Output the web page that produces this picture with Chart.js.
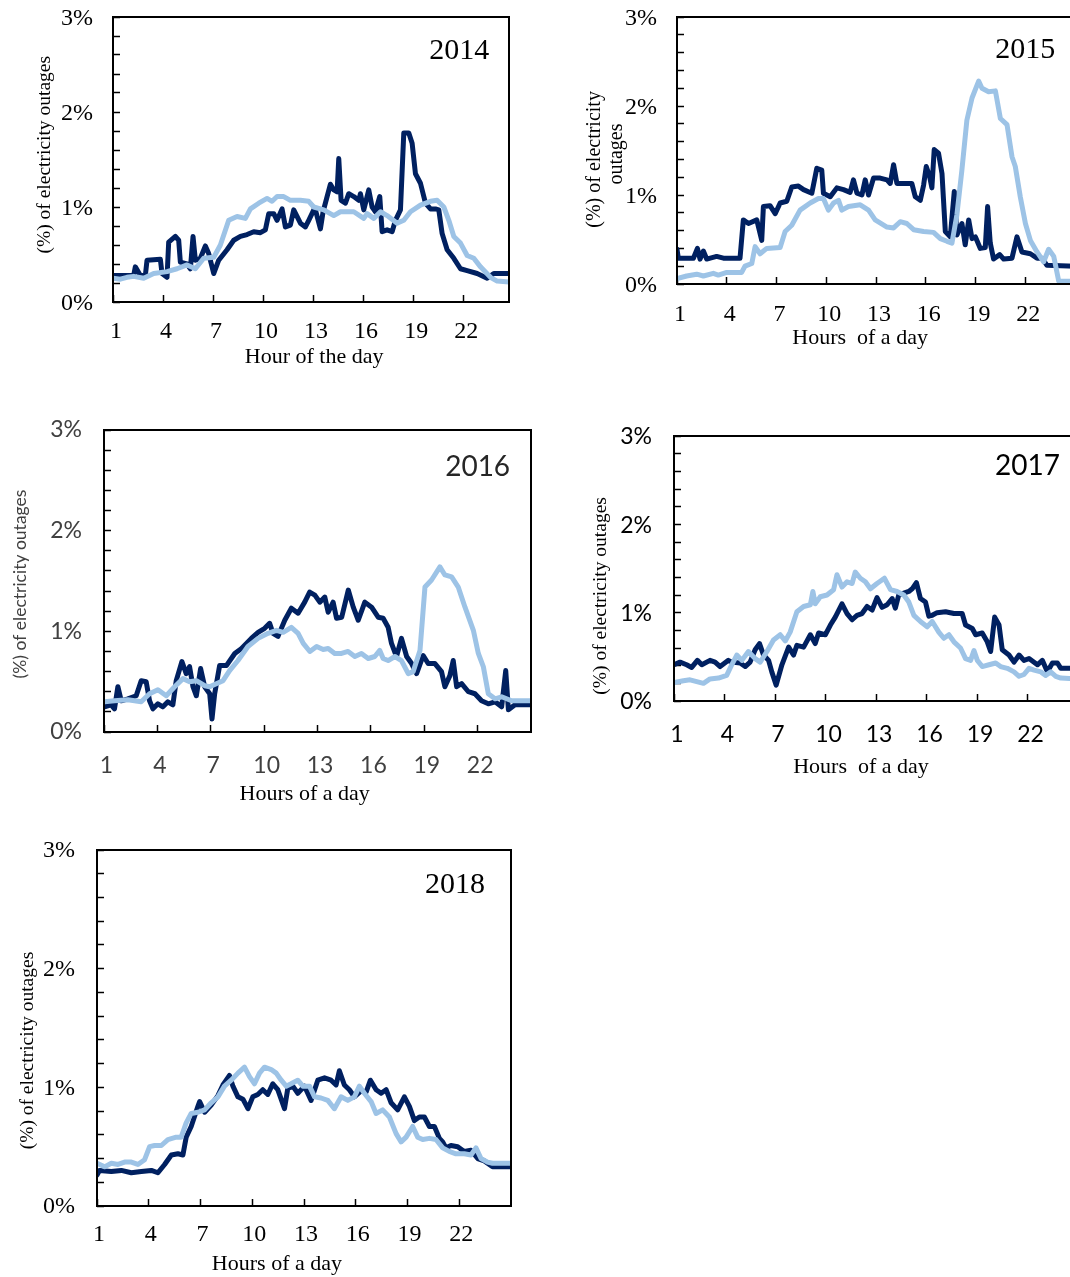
<!DOCTYPE html>
<html>
<head>
<meta charset="utf-8">
<script src="https://cdn.jsdelivr.net/npm/chart.js@4.4.0/dist/chart.umd.min.js"></script>
<style>
html, body { margin: 0; padding: 0; background: #fff; overflow: hidden; }
#page { position: relative; width: 1070px; height: 1277px; overflow: hidden; }
#page canvas { position: absolute; }
</style>
</head>
<body>
<div id="page">
  <canvas id="c2014" width="511" height="372" style="left:0px;top:0px"></canvas>
  <canvas id="c2015" width="517" height="352" style="left:560px;top:0px"></canvas>
  <canvas id="c2016" width="533" height="399" style="left:0px;top:410px"></canvas>
  <canvas id="c2017" width="520" height="365" style="left:560px;top:416px"></canvas>
  <canvas id="c2018" width="513" height="448" style="left:0px;top:830px"></canvas>
</div>
<script>
// tick labels on the hour axis
const hourTicks = [1, 4, 7, 10, 13, 16, 19, 22];

// [hour of day, % of electricity outages]
const dark2014 = [[1.0,0.28],[2.24,0.28],[2.34,0.37],[2.64,0.28],[2.94,0.28],[3.04,0.44],[3.84,0.45],[3.94,0.30],[4.24,0.26],[4.34,0.63],[4.74,0.69],[4.94,0.65],[5.04,0.42],[5.44,0.40],[5.64,0.35],[5.8,0.69],[5.94,0.44],[6.24,0.46],[6.54,0.59],[6.74,0.51],[7.04,0.30],[7.34,0.44],[7.84,0.55],[8.24,0.65],[8.64,0.69],[9.04,0.71],[9.44,0.74],[9.84,0.73],[10.14,0.76],[10.34,0.93],[10.64,0.93],[10.84,0.86],[11.14,0.98],[11.34,0.79],[11.64,0.81],[11.84,0.97],[12.24,0.83],[12.54,0.79],[12.74,0.86],[13.04,0.97],[13.14,0.97],[13.44,0.77],[13.6,0.95],[14.04,1.24],[14.24,1.18],[14.44,1.16],[14.54,1.51],[14.68,1.07],[14.94,1.04],[15.14,1.14],[15.44,1.11],[15.74,1.07],[15.84,1.14],[16.04,0.97],[16.34,1.18],[16.54,1.00],[16.74,0.95],[17.0,1.11],[17.14,0.74],[17.44,0.76],[17.74,0.74],[17.94,0.86],[18.24,0.97],[18.44,1.78],[18.74,1.78],[18.94,1.67],[19.14,1.35],[19.44,1.25],[19.74,1.04],[20.04,0.98],[20.34,0.98],[20.54,0.97],[20.74,0.72],[21.04,0.55],[21.44,0.46],[21.84,0.35],[22.24,0.33],[22.84,0.30],[23.44,0.25],[23.84,0.30],[24.75,0.30]];
const light2014 = [[1.0,0.25],[1.44,0.24],[1.84,0.26],[2.24,0.27],[2.84,0.25],[3.44,0.30],[4.24,0.32],[4.84,0.35],[5.44,0.39],[5.94,0.35],[6.44,0.46],[7.04,0.47],[7.44,0.60],[7.94,0.86],[8.44,0.90],[8.94,0.88],[9.24,0.98],[9.74,1.04],[10.24,1.09],[10.54,1.06],[10.84,1.11],[11.24,1.11],[11.64,1.07],[12.24,1.07],[12.74,1.06],[13.04,1.00],[13.64,0.97],[14.24,0.91],[14.64,0.95],[15.44,0.95],[16.04,0.88],[16.24,0.93],[16.64,0.88],[17.04,0.95],[17.44,0.91],[18.04,0.83],[18.44,0.86],[18.84,0.95],[19.44,1.02],[20.04,1.06],[20.44,1.07],[20.84,1.00],[21.14,0.86],[21.44,0.69],[21.84,0.62],[22.24,0.49],[22.64,0.46],[23.04,0.37],[23.64,0.26],[24.04,0.22],[24.75,0.21]];

const dark2015 = [[1.0,0.39],[1.08,0.29],[1.99,0.29],[2.23,0.40],[2.39,0.28],[2.59,0.37],[2.79,0.28],[3.39,0.31],[3.8,0.29],[4.8,0.29],[5.0,0.72],[5.31,0.68],[5.81,0.72],[6.11,0.49],[6.21,0.87],[6.61,0.88],[6.92,0.79],[7.22,0.91],[7.62,0.93],[7.92,1.09],[8.32,1.10],[8.63,1.06],[9.13,1.02],[9.43,1.30],[9.73,1.28],[9.83,1.02],[10.24,0.98],[10.64,1.08],[11.04,1.06],[11.44,1.03],[11.64,1.17],[11.85,1.02],[12.15,1.00],[12.35,1.17],[12.55,1.00],[12.85,1.19],[13.25,1.19],[13.66,1.17],[13.86,1.13],[14.06,1.34],[14.26,1.13],[14.86,1.13],[15.16,1.13],[15.37,0.98],[15.67,0.94],[15.87,1.11],[16.03,1.32],[16.23,1.21],[16.37,1.08],[16.51,1.51],[16.77,1.47],[16.98,1.24],[17.18,0.59],[17.48,0.53],[17.72,1.04],[17.88,0.55],[18.18,0.68],[18.38,0.44],[18.59,0.72],[18.79,0.51],[18.99,0.53],[19.29,0.40],[19.59,0.41],[19.73,0.87],[19.89,0.46],[20.09,0.28],[20.46,0.33],[20.7,0.28],[21.2,0.29],[21.5,0.53],[21.8,0.36],[22.31,0.34],[22.71,0.29],[23.01,0.29],[23.31,0.21],[25.0,0.20]];
const light2015 = [[1.0,0.06],[1.58,0.09],[2.19,0.11],[2.59,0.09],[3.19,0.12],[3.49,0.10],[4.0,0.13],[4.9,0.13],[5.1,0.20],[5.51,0.23],[5.71,0.42],[6.01,0.34],[6.41,0.40],[7.22,0.41],[7.52,0.59],[7.92,0.66],[8.42,0.83],[9.03,0.91],[9.53,0.96],[9.83,0.96],[10.13,0.83],[10.44,0.91],[10.74,0.94],[10.94,0.83],[11.34,0.87],[12.05,0.89],[12.55,0.83],[12.95,0.72],[13.66,0.64],[14.06,0.63],[14.46,0.70],[14.86,0.68],[15.27,0.61],[15.87,0.59],[16.47,0.58],[16.88,0.51],[17.28,0.48],[17.58,0.46],[17.88,0.78],[18.18,1.28],[18.48,1.84],[18.79,2.09],[19.19,2.28],[19.39,2.20],[19.79,2.16],[20.2,2.17],[20.5,1.86],[20.9,1.79],[21.2,1.43],[21.4,1.32],[21.7,0.98],[22.01,0.68],[22.31,0.49],[22.71,0.36],[23.11,0.25],[23.41,0.39],[23.72,0.31],[24.02,0.03],[25.0,0.03]];

const dark2016 = [[1.03,0.25],[1.4,0.27],[1.59,0.23],[1.78,0.45],[1.97,0.31],[2.34,0.33],[2.81,0.36],[3.09,0.51],[3.37,0.50],[3.56,0.31],[3.75,0.23],[4.03,0.28],[4.31,0.25],[4.59,0.30],[4.87,0.27],[5.06,0.51],[5.38,0.70],[5.62,0.58],[5.81,0.65],[6.0,0.45],[6.19,0.36],[6.43,0.63],[6.66,0.45],[6.94,0.38],[7.07,0.13],[7.22,0.38],[7.5,0.66],[7.88,0.66],[8.35,0.78],[8.73,0.83],[9.28,0.93],[9.66,0.99],[10.03,1.03],[10.31,1.08],[10.5,0.98],[10.78,0.95],[11.16,1.11],[11.53,1.23],[11.91,1.18],[12.28,1.29],[12.56,1.39],[12.85,1.36],[13.13,1.29],[13.41,1.34],[13.6,1.19],[13.88,1.29],[14.07,1.13],[14.36,1.14],[14.73,1.41],[15.01,1.24],[15.29,1.11],[15.66,1.29],[16.04,1.24],[16.41,1.14],[16.69,1.13],[16.97,1.04],[17.16,0.88],[17.44,0.75],[17.72,0.93],[18.01,0.75],[18.29,0.68],[18.57,0.58],[18.94,0.76],[19.22,0.68],[19.6,0.68],[19.97,0.60],[20.16,0.45],[20.44,0.56],[20.63,0.71],[20.82,0.45],[21.1,0.48],[21.48,0.40],[21.85,0.38],[22.22,0.31],[22.6,0.28],[22.98,0.30],[23.35,0.25],[23.58,0.61],[23.73,0.22],[24.1,0.27],[25.0,0.27]];
const light2016 = [[1.03,0.30],[1.59,0.31],[2.34,0.32],[3.09,0.30],[3.56,0.38],[4.03,0.42],[4.5,0.36],[4.97,0.45],[5.44,0.53],[5.81,0.50],[6.19,0.51],[6.66,0.46],[6.94,0.45],[7.31,0.48],[7.69,0.51],[8.06,0.61],[8.53,0.71],[9.09,0.85],[9.66,0.93],[10.22,0.98],[10.69,1.01],[11.07,0.99],[11.53,1.04],[11.91,0.98],[12.2,0.88],[12.57,0.80],[12.95,0.85],[13.32,0.82],[13.6,0.83],[13.97,0.78],[14.35,0.78],[14.72,0.80],[15.1,0.75],[15.47,0.78],[15.85,0.73],[16.22,0.75],[16.5,0.81],[16.69,0.73],[16.97,0.71],[17.35,0.75],[17.72,0.71],[18.1,0.58],[18.38,0.60],[18.76,0.81],[19.04,1.44],[19.41,1.51],[19.88,1.64],[20.16,1.56],[20.54,1.54],[20.91,1.44],[21.29,1.24],[21.76,1.01],[22.04,0.78],[22.32,0.65],[22.6,0.38],[22.98,0.33],[23.35,0.35],[23.91,0.31],[25.0,0.31]];

const dark2017 = [[1.0,0.41],[1.36,0.44],[1.75,0.41],[2.05,0.38],[2.39,0.46],[2.65,0.41],[3.14,0.46],[3.44,0.44],[3.74,0.39],[4.23,0.46],[4.43,0.44],[4.93,0.43],[5.23,0.39],[5.52,0.44],[5.82,0.58],[6.08,0.65],[6.32,0.52],[6.62,0.46],[6.81,0.33],[7.07,0.18],[7.41,0.41],[7.81,0.61],[8.1,0.52],[8.3,0.63],[8.7,0.61],[9.1,0.75],[9.39,0.65],[9.59,0.77],[9.99,0.75],[10.29,0.86],[10.58,0.95],[10.98,1.10],[11.28,0.99],[11.58,0.92],[11.87,0.97],[12.17,0.99],[12.47,1.07],[12.77,1.03],[13.06,1.17],[13.36,1.06],[13.66,1.09],[13.96,1.16],[14.15,1.05],[14.35,1.20],[14.65,1.22],[14.95,1.24],[15.15,1.27],[15.4,1.34],[15.64,1.16],[15.94,1.12],[16.14,0.96],[16.34,0.97],[16.63,1.00],[17.13,1.01],[17.63,0.99],[18.12,0.99],[18.32,0.86],[18.72,0.82],[18.92,0.75],[19.31,0.77],[19.61,0.67],[19.81,0.56],[20.05,0.95],[20.31,0.86],[20.5,0.58],[20.9,0.52],[21.2,0.44],[21.5,0.52],[21.79,0.46],[22.09,0.48],[22.59,0.41],[22.88,0.46],[23.18,0.33],[23.48,0.43],[23.78,0.43],[23.98,0.37],[25.0,0.37]];
const light2017 = [[1.0,0.21],[1.56,0.23],[1.95,0.24],[2.35,0.22],[2.75,0.20],[3.14,0.25],[3.64,0.26],[4.13,0.29],[4.43,0.41],[4.73,0.52],[5.03,0.46],[5.42,0.56],[5.82,0.48],[6.12,0.44],[6.52,0.56],[6.91,0.69],[7.31,0.75],[7.61,0.68],[7.9,0.78],[8.3,1.01],[8.7,1.07],[9.1,1.09],[9.25,1.24],[9.39,1.10],[9.69,1.18],[10.09,1.20],[10.48,1.26],[10.68,1.43],[10.98,1.29],[11.28,1.35],[11.58,1.33],[11.77,1.46],[12.07,1.39],[12.37,1.35],[12.67,1.27],[13.06,1.33],[13.5,1.39],[13.86,1.26],[14.25,1.24],[14.65,1.20],[14.95,1.12],[15.25,0.97],[15.64,0.90],[16.04,0.84],[16.34,0.90],[16.73,0.78],[17.03,0.71],[17.33,0.75],[17.63,0.67],[18.02,0.60],[18.32,0.48],[18.62,0.46],[18.82,0.57],[19.02,0.46],[19.31,0.39],[19.71,0.41],[20.11,0.43],[20.4,0.39],[20.8,0.37],[21.2,0.33],[21.5,0.28],[21.79,0.30],[22.09,0.37],[22.39,0.35],[22.79,0.33],[23.08,0.29],[23.38,0.33],[23.68,0.28],[23.98,0.26],[25.0,0.25]];

const dark2018 = [[1.0,0.26],[1.15,0.30],[1.83,0.29],[2.41,0.30],[2.99,0.28],[3.57,0.29],[4.15,0.30],[4.53,0.28],[4.92,0.35],[5.31,0.43],[5.69,0.44],[5.98,0.43],[6.17,0.58],[6.46,0.67],[6.85,0.84],[6.95,0.88],[7.24,0.79],[7.62,0.85],[8.01,0.93],[8.3,1.02],[8.68,1.10],[8.88,1.01],[9.17,0.92],[9.46,0.90],[9.75,0.82],[10.03,0.92],[10.32,0.94],[10.61,0.98],[10.9,0.94],[11.19,1.03],[11.48,0.98],[11.87,0.82],[12.06,0.99],[12.35,1.01],[12.64,0.95],[13.03,1.01],[13.41,0.89],[13.8,1.06],[14.19,1.08],[14.57,1.06],[14.86,1.02],[15.05,1.14],[15.34,1.02],[15.63,0.98],[15.92,0.92],[16.31,0.97],[16.6,0.96],[16.85,1.06],[17.18,0.98],[17.47,0.95],[17.76,0.98],[18.05,0.87],[18.43,0.81],[18.82,0.92],[19.11,0.84],[19.4,0.72],[19.69,0.75],[19.98,0.75],[20.27,0.67],[20.56,0.67],[20.85,0.57],[21.04,0.54],[21.23,0.49],[21.52,0.51],[21.91,0.50],[22.29,0.46],[22.68,0.47],[23.07,0.40],[23.45,0.38],[23.93,0.33],[25.0,0.33]];
const light2018 = [[1.0,0.36],[1.44,0.33],[1.83,0.36],[2.22,0.35],[2.6,0.37],[2.99,0.37],[3.37,0.35],[3.76,0.39],[4.05,0.50],[4.34,0.51],[4.73,0.51],[5.11,0.56],[5.59,0.58],[5.88,0.58],[6.17,0.70],[6.46,0.78],[6.85,0.79],[7.24,0.81],[7.62,0.87],[8.01,0.92],[8.39,1.01],[8.78,1.06],[9.17,1.12],[9.55,1.17],[9.84,1.09],[10.13,1.03],[10.42,1.12],[10.71,1.17],[11.1,1.15],[11.39,1.12],[11.68,1.06],[11.97,1.01],[12.25,1.03],[12.64,1.06],[12.93,1.01],[13.32,1.01],[13.61,0.92],[13.99,0.91],[14.38,0.89],[14.76,0.82],[15.15,0.92],[15.54,0.89],[15.92,0.92],[16.21,1.01],[16.5,0.95],[16.89,0.88],[17.18,0.78],[17.56,0.81],[17.95,0.75],[18.34,0.61],[18.63,0.54],[18.92,0.58],[19.3,0.67],[19.59,0.58],[19.88,0.56],[20.27,0.57],[20.65,0.56],[21.04,0.49],[21.42,0.46],[21.81,0.44],[22.29,0.44],[22.68,0.43],[22.97,0.49],[23.26,0.40],[23.64,0.37],[23.93,0.36],[25.0,0.36]];

const darkBlue = '#002060';
const lightBlue = '#9DC3E6';
const serif = '"Liberation Serif", "Times New Roman", serif';
const sans = 'Lato, "Liberation Sans", sans-serif';

// box around the plot area
const framePlugin = {
  id: 'frame',
  afterDraw(chart) {
    const a = chart.chartArea;
    const ctx = chart.ctx;
    ctx.save();
    ctx.strokeStyle = '#000';
    ctx.lineWidth = 2;
    ctx.strokeRect(a.left, a.top, a.right - a.left, a.bottom - a.top);
    ctx.restore();
  }
};

// axis titles and the year, placed along the axes through the scales
function captionPlugin(items) {
  return {
    id: 'captions',
    afterDraw(chart) {
      const ctx = chart.ctx;
      const a = chart.chartArea;
      items.forEach(function (c) {
        ctx.save();
        ctx.font = c.font;
        ctx.fillStyle = c.color || '#000';
        ctx.textAlign = 'center';
        ctx.textBaseline = 'middle';
        if (c.axis === 'x') {
          ctx.fillText(c.text, chart.scales.x.getPixelForValue(c.at), a.bottom + c.gap);
        } else if (c.axis === 'y') {
          ctx.translate(a.left - c.gap, chart.scales.y.getPixelForValue(c.at));
          ctx.rotate(-Math.PI / 2);
          ctx.fillText(c.text, 0, 0);
        } else {
          ctx.fillText(c.text, chart.scales.x.getPixelForValue(c.at[0]), chart.scales.y.getPixelForValue(c.at[1]));
        }
        ctx.restore();
      });
    }
  };
}

function pts(arr) {
  return arr.map(function (p) { return { x: p[0], y: p[1] }; });
}

function makeChart(id, dark, light, cfg) {
  new Chart(document.getElementById(id), {
    type: 'line',
    data: {
      datasets: [
        { data: pts(light), borderColor: lightBlue, borderWidth: 5 },
        { data: pts(dark), borderColor: darkBlue, borderWidth: 5 }
      ]
    },
    plugins: [framePlugin, captionPlugin(cfg.captions)],
    options: {
      responsive: false,
      animation: false,
      events: [],
      layout: { padding: { top: cfg.padTop, right: 2, left: 0, bottom: 0 } },
      elements: {
        point: { radius: 0 },
        line: { tension: 0, borderJoinStyle: 'round', borderCapStyle: 'round', fill: false }
      },
      scales: {
        x: {
          type: 'linear',
          min: 1,
          max: cfg.xMax,
          afterBuildTicks: function (scale) {
            scale.ticks = hourTicks.map(function (v) { return { value: v }; });
          },
          afterFit: function (scale) {
            scale.height = cfg.xH;
            scale.paddingLeft = 0;
            scale.paddingRight = 0;
          },
          grid: { drawOnChartArea: false, tickLength: -7, tickWidth: 1.5, tickColor: '#000' },
          border: { display: false },
          ticks: {
            autoSkip: false,
            maxRotation: 0,
            padding: cfg.xTickPad,
            labelOffset: cfg.xLabelShift,
            color: cfg.tickColor,
            font: { family: cfg.tickFamily, size: cfg.tickSize }
          }
        },
        y: {
          min: 0,
          max: 3,
          afterFit: function (scale) {
            scale.width = cfg.yW;
            scale.paddingTop = 0;
            scale.paddingBottom = 0;
          },
          grid: { drawOnChartArea: false, tickLength: -7, tickWidth: 1.5, tickColor: '#000' },
          border: { display: false },
          ticks: {
            stepSize: 0.2,
            autoSkip: false,
            padding: cfg.yTickPad,
            labelOffset: cfg.yLabelShift,
            color: cfg.tickColor,
            font: { family: cfg.tickFamily, size: cfg.tickSize },
            callback: function (v) {
              return Math.abs(v - Math.round(v)) < 1e-6 ? Math.round(v) + '%' : '';
            }
          }
        }
      },
      plugins: {
        legend: { display: false },
        tooltip: { enabled: false }
      }
    }
  });
}

makeChart('c2014', dark2014, light2014, {
  padTop: 17, yW: 113, xH: 70, xMax: 24.75,
  tickFamily: serif, tickSize: 24, tickColor: '#000', yTickPad: 27, xTickPad: 22.6,
  xLabelShift: 3, yLabelShift: 2,
  captions: [
    { axis: 'x', text: 'Hour of the day', at: 13.06, gap: 55, font: '22px ' + serif },
    { axis: 'y', text: '(%) of electricity outages', at: 1.55, gap: 68, font: '19.5px ' + serif },
    { text: '2014', at: [21.76, 2.64], font: '30px ' + serif }
  ]
});

makeChart('c2015', dark2015, light2015, {
  padTop: 17, yW: 117, xH: 68, xMax: 25,
  tickFamily: serif, tickSize: 24, tickColor: '#000', yTickPad: 27, xTickPad: 23.6,
  xLabelShift: 3, yLabelShift: 2,
  captions: [
    { axis: 'x', text: 'Hours  of a day', at: 12.04, gap: 54, font: '22px ' + serif },
    { axis: 'y', text: '(%) of electricity', at: 1.40, gap: 82, font: '20px ' + serif },
    { axis: 'y', text: 'outages', at: 1.46, gap: 60, font: '20px ' + serif },
    { text: '2015', at: [22.0, 2.63], font: '30px ' + serif }
  ]
});

makeChart('c2016', dark2016, light2016, {
  padTop: 20, yW: 104, xH: 77, xMax: 25,
  tickFamily: sans, tickSize: 23, tickColor: '#404040', yTickPad: 29, xTickPad: 26.7,
  xLabelShift: 2.5, yLabelShift: 0,
  captions: [
    { axis: 'x', text: 'Hours of a day', at: 12.28, gap: 62.5, font: '22px ' + serif },
    { axis: 'y', text: '(%) of electricity outages', at: 1.47, gap: 83.5, font: '17.5px ' + sans, color: '#404040' },
    { text: '2016', at: [22.0, 2.63], font: '28px ' + sans, color: '#262626' }
  ]
});

makeChart('c2017', dark2017, light2017, {
  padTop: 20, yW: 114, xH: 80, xMax: 25,
  tickFamily: sans, tickSize: 23, tickColor: '#000', yTickPad: 29, xTickPad: 27.2,
  xLabelShift: 3, yLabelShift: 1,
  captions: [
    { axis: 'x', text: 'Hours  of a day', at: 12.11, gap: 66, font: '22px ' + serif },
    { axis: 'y', text: '(%) of electricity outages', at: 1.19, gap: 73, font: '19.5px ' + serif },
    { text: '2017', at: [22.0, 2.66], font: '28px ' + sans }
  ]
});

makeChart('c2018', dark2018, light2018, {
  padTop: 20, yW: 97, xH: 72, xMax: 25,
  tickFamily: serif, tickSize: 24, tickColor: '#000', yTickPad: 29, xTickPad: 21.6,
  xLabelShift: 2, yLabelShift: 1,
  captions: [
    { axis: 'x', text: 'Hours of a day', at: 11.43, gap: 58, font: '22px ' + serif },
    { axis: 'y', text: '(%) of electricity outages', at: 1.31, gap: 69, font: '19.5px ' + serif },
    { text: '2018', at: [21.75, 2.70], font: '30px ' + serif }
  ]
});
</script>
</body>
</html>
